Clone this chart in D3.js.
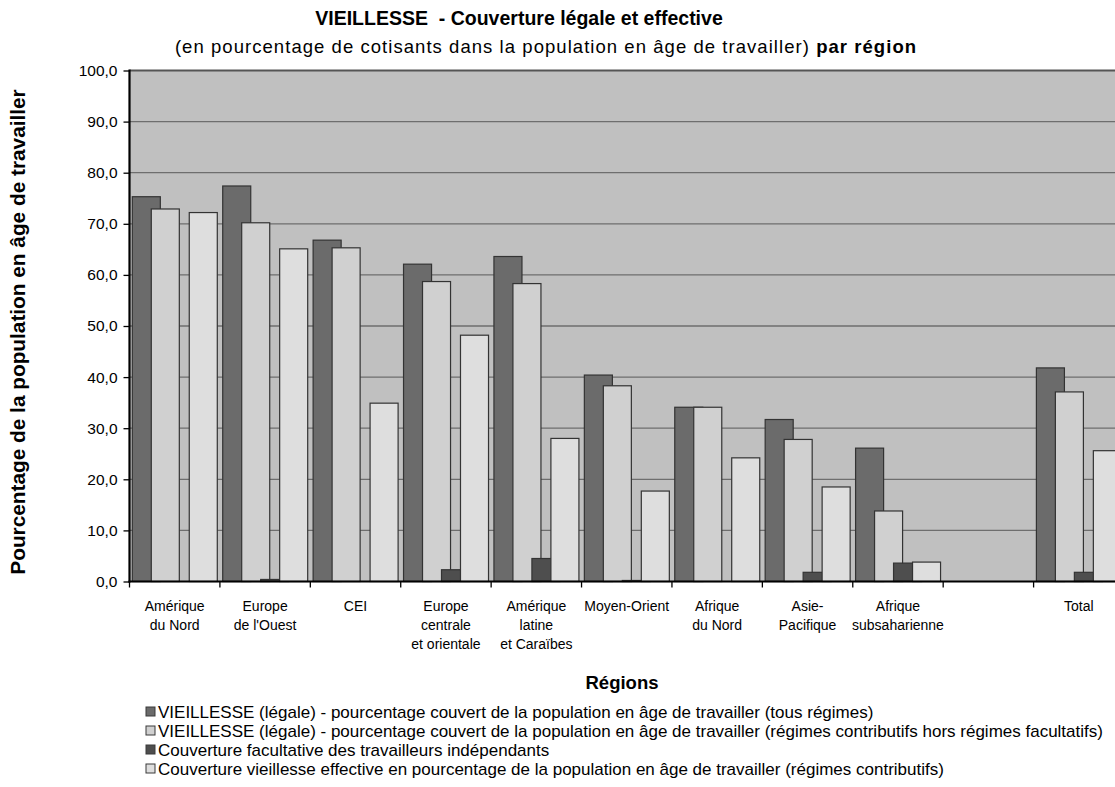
<!DOCTYPE html>
<html><head><meta charset="utf-8">
<script src="https://cdn.jsdelivr.net/npm/d3@7"></script>
<style>body{margin:0;background:#fff}svg{display:block}text{font-family:"Liberation Sans",Arial,sans-serif;fill:#000}</style>
</head><body><svg id="c" width="1115" height="787"></svg>
<script>
const categories = ["Amérique du Nord","Europe de l'Ouest","CEI","Europe centrale et orientale","Amérique latine et Caraïbes","Moyen-Orient","Afrique du Nord","Asie-Pacifique","Afrique subsaharienne","","Total"];
const categoryLines = [["Amérique","du Nord"],["Europe","de l'Ouest"],["CEI"],["Europe","centrale","et orientale"],["Amérique","latine","et Caraïbes"],["Moyen-Orient"],["Afrique","du Nord"],["Asie-","Pacifique"],["Afrique","subsaharienne"],[],["Total"]];
const legalAll      = [75.3, 77.4, 66.8, 62.1, 63.6, 40.4, 34.1, 31.7, 26.1, null, 41.8];
const legalContrib  = [72.9, 70.2, 65.3, 58.7, 58.3, 38.3, 34.1, 27.8, 13.8, null, 37.1];
const voluntarySelf = [0, 0.4, 0, 2.3, 4.5, 0.2, 0, 1.8, 3.6, null, 1.8];
const effective     = [72.2, 65.1, 34.9, 48.2, 28.0, 17.7, 24.2, 18.5, 3.8, null, 25.6];
const seriesNames = [
 "VIEILLESSE (légale) - pourcentage couvert de la population en âge de travailler (tous régimes)",
 "VIEILLESSE (légale) - pourcentage couvert de la population en âge de travailler (régimes contributifs hors régimes facultatifs)",
 "Couverture facultative des travailleurs indépendants",
 "Couverture vieillesse effective en pourcentage de la population en âge de travailler (régimes contributifs)"];
const yTicks = [0,10,20,30,40,50,60,70,80,90,100];

const series = [legalAll, legalContrib, voluntarySelf, effective];
const colors = ["#6b6b6b","#d0d0d0","#4e4e4e","#dedede"];
const svg = d3.select("#c");
const L = 129.5, R = 1124, T = 70.5, B = 581.5;
const x = d3.scaleBand().domain(categories.map((c,i)=>i)).range([L,R]).padding(0);
const y = d3.scaleLinear().domain([0,100]).range([B,T]);
const fmt = d3.formatLocale({decimal:",",thousands:" ",grouping:[3],currency:["",""]}).format(".1f");

// plot background
svg.append("rect").attr("x",L).attr("y",T).attr("width",R-L).attr("height",B-T).attr("fill","#c0c0c0");
// gridlines
svg.append("g").selectAll("line").data(yTicks.filter(d=>d>0)).join("line")
  .attr("x1",L).attr("x2",R).attr("y1",d=>y(d)).attr("y2",d=>y(d))
  .attr("stroke",d=>d===100?"#555":"#6e6e6e").attr("stroke-width",d=>d===100?2:1.3);

// bars
const bw = x.bandwidth();
const off0 = bw*0.031, step = bw*0.21, barW = bw*0.31;
series.forEach((s,si)=>{
  svg.append("g").selectAll("rect").data(s.map((v,i)=>({v,i})).filter(d=>d.v!=null && d.v>0)).join("rect")
    .attr("x",d=>x(d.i)+off0+si*step).attr("width",barW)
    .attr("y",d=>y(d.v)).attr("height",d=>y(0)-y(d.v))
    .attr("fill",colors[si]).attr("stroke","#333").attr("stroke-width",1.2);
});

// axes
const yAxis = d3.axisLeft(y).tickValues(yTicks).tickSize(6).tickFormat(fmt);
const gy = svg.append("g").attr("transform",`translate(${L},0)`).call(yAxis);
gy.select(".domain").remove();
gy.selectAll(".tick line").attr("stroke","#000").attr("stroke-width",1.3);
gy.selectAll(".tick text").attr("font-size",15.5).attr("font-family","Liberation Sans, Arial").attr("x",-12).attr("fill","#000");
svg.append("line").attr("x1",L).attr("x2",L).attr("y1",T-1).attr("y2",B+1).attr("stroke","#000").attr("stroke-width",2.2);
svg.append("line").attr("x1",L-1).attr("x2",R).attr("y1",B).attr("y2",B).attr("stroke","#000").attr("stroke-width",2.2);
// x ticks at category boundaries
svg.append("g").selectAll("line").data(categories.map((c,i)=>i)).join("line")
  .attr("x1",d=>x(d)).attr("x2",d=>x(d)).attr("y1",B).attr("y2",B+6).attr("stroke","#000").attr("stroke-width",1.3);
// x labels
const xl = svg.append("g").selectAll("text").data(categoryLines.map((l,i)=>({l,i}))).join("text")
  .attr("text-anchor","middle").attr("font-size",14)
  .attr("x",d=>x(d.i)+bw/2).attr("y",611);
xl.selectAll("tspan").data(d=>d.l.map(t=>({t,cx:x(d.i)+bw/2}))).join("tspan")
  .attr("x",d=>d.cx).attr("dy",(d,j)=>j===0?0:19).text(d=>d.t);

// titles
svg.append("text").attr("x",519).attr("y",25).attr("text-anchor","middle").attr("font-size",19.5).attr("font-weight","bold")
  .style("white-space","pre").text("VIEILLESSE  - Couverture légale et effective");
const st = svg.append("text").attr("x",546).attr("y",53).attr("text-anchor","middle").attr("font-size",18.5).attr("letter-spacing",1.05);
st.append("tspan").text("(en pourcentage de cotisants dans la population en âge de travailler) ");
st.append("tspan").attr("font-weight","bold").text("par région");
svg.append("text").attr("x",622).attr("y",689).attr("text-anchor","middle").attr("font-size",18.5).attr("font-weight","bold").text("Régions");
svg.append("text").attr("transform",`translate(25,${(T+B)/2+6}) rotate(-90)`).attr("text-anchor","middle")
  .attr("font-size",20.8).attr("font-weight","bold").text("Pourcentage de la population en âge de travailler");

// legend
const leg = svg.append("g").selectAll("g").data(seriesNames.map((n,i)=>({n,i}))).join("g")
  .attr("transform",d=>`translate(146,${711.5+d.i*19})`);
leg.append("rect").attr("x",0).attr("y",-4.5).attr("width",9).attr("height",9)
  .attr("fill",d=>colors[d.i]).attr("stroke","#3a3a3a").attr("stroke-width",1);
leg.append("text").attr("x",12).attr("y",6).attr("font-size",17).text(d=>d.n);
</script></body></html>
